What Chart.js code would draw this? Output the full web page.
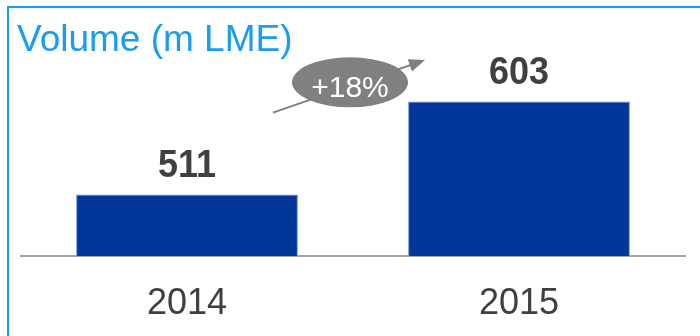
<!DOCTYPE html>
<html>
<head>
<meta charset="utf-8">
<script src="https://cdn.jsdelivr.net/npm/chart.js@4"></script>
<style>
  html, body { margin: 0; padding: 0; background: #ffffff; overflow: hidden; }
  #wrap { position: relative; width: 700px; height: 336px; overflow: hidden; }
  #title { position: absolute; left: 17px; top: 17px; font-family: "Liberation Sans", Arial, sans-serif;
           font-size: 37px; color: #1A9CF2; line-height: 44px; white-space: nowrap; }
  canvas { position: absolute; left: 0; top: 0; }
</style>
</head>
<body>
<div id="wrap">
  <canvas id="c" width="700" height="336"></canvas>
  <div id="title">Volume (m LME)</div>
</div>
<script>
const categories = ["2014", "2015"];
const volumes = [511, 603];
const growthLabel = "+18%";
const axisMin = 450;
const axisMax = 650;

const frame = {
  id: 'frame',
  beforeDraw(chart) {
    const ctx = chart.ctx;
    ctx.save();
    ctx.fillStyle = '#159CF7';
    ctx.fillRect(7, 6, chart.width - 7, 2);
    ctx.fillRect(7, 6, 2, chart.height - 6);
    ctx.restore();
  }
};

const valueLabels = {
  id: 'valueLabels',
  afterDatasetsDraw(chart) {
    const ctx = chart.ctx;
    const meta = chart.getDatasetMeta(0);
    ctx.save();
    ctx.font = 'bold 36px "Liberation Sans", Arial, sans-serif';
    ctx.fillStyle = '#404040';
    ctx.textAlign = 'center';
    ctx.textBaseline = 'alphabetic';
    meta.data.forEach((bar, i) => {
      ctx.save();
      ctx.translate(bar.x, bar.y - 17);
      ctx.scale(1, 1.1);
      ctx.fillText(String(volumes[i]), 0, 0);
      ctx.restore();
    });
    ctx.restore();
  }
};

const growthBadge = {
  id: 'growthBadge',
  afterDatasetsDraw(chart) {
    const ctx = chart.ctx;
    const meta = chart.getDatasetMeta(0);
    const ys = chart.scales.y;
    const mid = (meta.data[0].x + meta.data[1].x) / 2;
    const x0 = mid - 80, y0 = ys.getPixelForValue(592);
    const x1 = mid + 72, y1 = ys.getPixelForValue(644);
    const ang = Math.atan2(y1 - y0, x1 - x0);
    ctx.save();
    ctx.strokeStyle = '#808080';
    ctx.fillStyle = '#808080';
    ctx.lineWidth = 2;
    ctx.beginPath();
    ctx.moveTo(x0, y0);
    ctx.lineTo(x1 - 12 * Math.cos(ang), y1 - 12 * Math.sin(ang));
    ctx.stroke();
    ctx.beginPath();
    ctx.moveTo(x1, y1);
    ctx.lineTo(x1 - 16 * Math.cos(ang) + 6.5 * Math.sin(ang), y1 - 16 * Math.sin(ang) - 6.5 * Math.cos(ang));
    ctx.lineTo(x1 - 16 * Math.cos(ang) - 6.5 * Math.sin(ang), y1 - 16 * Math.sin(ang) + 6.5 * Math.cos(ang));
    ctx.closePath();
    ctx.fill();
    const cx = mid - 3, cy = ys.getPixelForValue(622);
    ctx.beginPath();
    ctx.ellipse(cx, cy, 58, 25, 0, 0, Math.PI * 2);
    ctx.fill();
    ctx.fillStyle = '#ffffff';
    ctx.font = '30px "Liberation Sans", Arial, sans-serif';
    ctx.textAlign = 'center';
    ctx.textBaseline = 'alphabetic';
    ctx.fillText(growthLabel, cx, cy + 15);
    ctx.restore();
  }
};

new Chart(document.getElementById('c'), {
  type: 'bar',
  data: {
    labels: categories,
    datasets: [{
      data: volumes,
      backgroundColor: '#003799',
      borderColor: '#6f8fd6',
      borderWidth: 1,
      borderSkipped: 'bottom',
      categoryPercentage: 1.0,
      barPercentage: 0.668
    }]
  },
  options: {
    responsive: false,
    animation: false,
    devicePixelRatio: 1,
    layout: { padding: { left: 21, right: 15, top: 54, bottom: 0 } },
    plugins: { legend: { display: false }, tooltip: { enabled: false }, title: { display: false } },
    scales: {
      x: {
        grid: { display: false, drawTicks: false },
        border: { display: true, color: '#a6a6a6', width: 2 },
        ticks: {
          color: '#404040',
          font: { family: '"Liberation Sans", Arial, sans-serif', size: 36 },
          padding: 26
        },
        afterFit(s) { s.height = 80; }
      },
      y: {
        display: false,
        min: axisMin,
        max: axisMax
      }
    }
  },
  plugins: [frame, valueLabels, growthBadge]
});
</script>
</body>
</html>
